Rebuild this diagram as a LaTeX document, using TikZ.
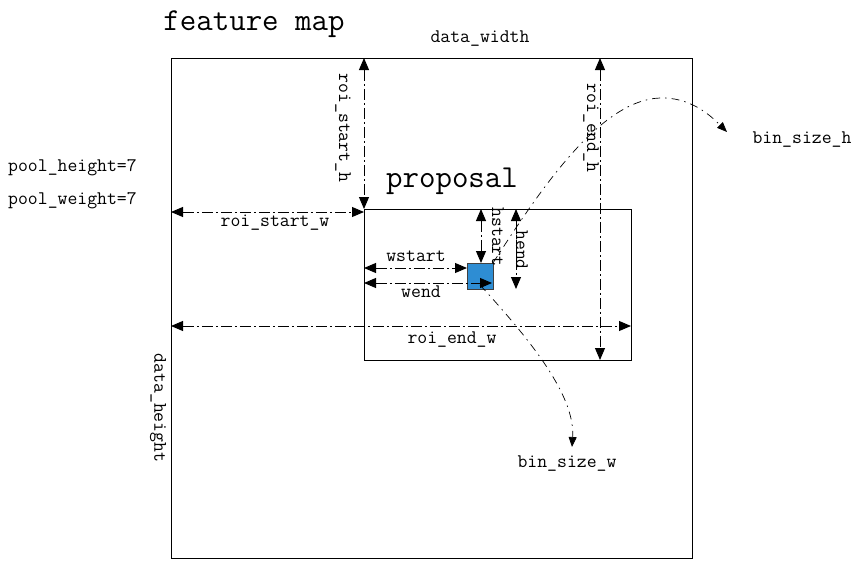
\documentclass[tikz,border=0pt]{standalone}
\usepackage{fontspec}
\usetikzlibrary{arrows.meta}
\definecolor{binblue}{RGB}{46,141,211}
\tikzset{
  lbl/.style={font=\ttfamily\fontsize{19.2}{21}\selectfont, inner sep=0pt},
  title/.style={font=\ttfamily\fontsize{32}{34}\selectfont, inner sep=0pt},
  dim/.style={line width=0.9pt, dash pattern=on 11pt off 3pt on 2pt off 3pt,
    {Triangle[length=12pt,width=10pt]}-{Triangle[length=12pt,width=10pt]}},
  bincurve/.style={line width=0.7pt, dash pattern=on 8pt off 5pt on 1.5pt off 5pt,
    -{Triangle[length=10pt,width=8pt]}},
  box/.style={draw, line width=0.8pt, inner sep=0pt, anchor=north west}
}
\begin{document}
\begin{tikzpicture}[x=1pt,y=-1pt]
\useasboundingbox (0,0) rectangle (865,579);
% boxes
\node[box, minimum width=521pt, minimum height=500pt] (fm) at (171,58) {};
\node[box, minimum width=267pt, minimum height=151pt] (prop) at (364,209) {};
\node[box, fill=binblue, draw=black!75, line width=0.6pt, minimum width=26pt, minimum height=26pt] (bin) at (467,263) {};
% coordinates
\coordinate (rsh1) at (364,58);
\coordinate (rsw1) at (171,212);
\coordinate (rsw2) at (364,212);
\coordinate (reh1) at (600,58);
\coordinate (reh2) at (600,360);
\coordinate (rew1) at (171,326);
\coordinate (rew2) at (631,326);
\coordinate (hs1) at (481,209);
\coordinate (hs2) at (481,263);
\coordinate (he1) at (516,209);
\coordinate (he2) at (516,289);
\coordinate (ws1) at (364,268);
\coordinate (ws2) at (467,268);
\coordinate (we1) at (364,283);
\coordinate (we2) at (492,283);
\coordinate (bh0) at (493,263);
\coordinate (bhp) at (660,98);
\coordinate (bh1) at (727,132);
\coordinate (bw0) at (480,285);
\coordinate (bw1) at (572,447);
% texts
\node[title] (tfm) at (254,24) {feature map};
\node[title] (tprop) at (452,181) {proposal};
\node[lbl] (tdw) at (480,39) {data\_width};
\node[lbl, anchor=west] (tph) at (8,168) {pool\_height=7};
\node[lbl, anchor=west] (tpw) at (8,201) {pool\_weight=7};
\node[lbl] (trsw) at (275,223) {roi\_start\_w};
\node[lbl] (trew) at (452,340) {roi\_end\_w};
\node[lbl] (tbh) at (802,140) {bin\_size\_h};
\node[lbl] (tbw) at (567,464) {bin\_size\_w};
\node[lbl, rotate=-90] (tdh) at (158,408) {data\_height};
\node[lbl, rotate=-90] (trsh) at (343,128) {roi\_start\_h};
\node[lbl, rotate=-90] (treh) at (591,128) {roi\_end\_h};
\node[lbl, rotate=-90] (ths) at (498,237) {hstart};
\node[lbl, rotate=-90] (the) at (522,250) {hend};
\node[lbl] (tws) at (416,256) {wstart};
\node[lbl] (twe) at (421,292) {wend};
% dimension arrows
\draw[dim] (rsh1) -- (prop.north west);
\draw[dim] (rsw1) -- (rsw2);
\draw[dim] (reh1) -- (reh2);
\draw[dim] (rew1) -- (rew2);
\draw[dim] (hs1) -- (hs2);
\draw[dim] (he1) -- (he2);
\draw[dim] (ws1) -- (ws2);
\draw[dim] (we1) -- (we2);
% curves
\draw[bincurve] (bh0) .. controls (540,190) and (600,100) .. (bhp) .. controls (690,97) and (710,115) .. (bh1);
\draw[bincurve] (bw0) .. controls (540,350) and (575,400) .. (bw1);
\end{tikzpicture}
\end{document}
